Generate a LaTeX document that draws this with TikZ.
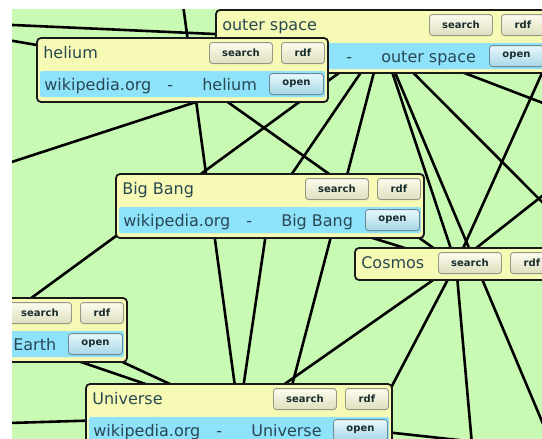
\documentclass[tikz,border=0pt]{standalone}
\usepackage{fontspec}
\setmainfont{DejaVu Sans}
\usetikzlibrary{positioning, calc}

\definecolor{meadow}{RGB}{200,250,180}
\definecolor{boxyellow}{RGB}{246,250,180}
\definecolor{rowblue}{RGB}{142,226,250}
\definecolor{titleink}{RGB}{40,72,84}
\definecolor{btnink}{RGB}{25,45,45}
\definecolor{btntop}{RGB}{252,252,238}
\definecolor{btnbot}{RGB}{222,222,190}
\definecolor{btnedge}{RGB}{150,150,135}
\definecolor{opentop}{RGB}{232,248,252}
\definecolor{openbot}{RGB}{168,214,232}
\definecolor{openedge}{RGB}{105,140,150}

\tikzset{
        relation/.style={
            draw=black, line width=2.6pt
        },
        wikibox/.style={
            rectangle, draw=black!90, line width=1.8pt, fill=boxyellow, rounded corners=4pt, inner sep=0pt
        },
        boxtitle/.style={
            anchor=base west, inner sep=0pt, text=titleink, font=\fontsize{16}{18}\selectfont
        },
        linkrow/.style={
            fill=rowblue, rounded corners=2pt
        },
        linktext/.style={
            boxtitle
        },
        btn/.style={
            rectangle, anchor=north east, draw=btnedge, line width=0.9pt, rounded corners=3pt,
            top color=btntop, bottom color=btnbot, minimum height=21pt, inner sep=0pt,
            text=btnink, font=\fontsize{10}{12}\selectfont\bfseries
        },
        openbtn/.style={
            btn, draw=openedge, top color=opentop, bottom color=openbot, minimum width=54pt
        },
}

% box with title row: name, width, height, title
\newcommand{\wikihead}[4]{%
        \node [wikibox, minimum width=#2pt, minimum height=#3pt] (#1)        at (#1-c)                          {};
        \node [boxtitle]                                      (#1-title)  at ($(#1.north west)+(7,21)$)      {#4};
        \node [btn, minimum width=43pt]                       (#1-rdf)    at ($(#1.north east)+(-4,5)$)      {rdf};
        \node [btn, minimum width=63pt]                       (#1-search) at ($(#1.north east)+(-56,5)$)     {search};
}
% blue link row: name, topic
\newcommand{\wikilink}[2]{%
        \path [linkrow] ($(#1.north west)+(4,34)$) rectangle ($(#1.north east)+(-4,60)$);
        \node [linktext]  (#1-site)  at ($(#1.north west)+(8,53)$)    {wikipedia.org};
        \node [linktext]  (#1-dash)  at ($(#1.north west)+(131,53)$)  {-};
        \node [linktext]  (#1-topic) at ($(#1.north west)+(166,53)$)  {#2};
        \node [openbtn]   (#1-open)  at ($(#1.north east)+(-5,36)$)   {open};
}

\begin{document}
\begin{tikzpicture}[x=1pt, y=-1pt]

        %FRAME (white margin top and left, the rest is the green canvas)
        \useasboundingbox (0,0) rectangle (542,439);
        \fill [white]  (0,0) rectangle (542,439);
        \clip (12,9) rectangle (542,439);
        \fill [meadow] (12,9) rectangle (542,439);

        %CENTRES OF THE BOXES
        \coordinate (outer-c)    at (382,41.5);
        \coordinate (helium-c)   at (182.5,70);
        \coordinate (bigbang-c)  at (270,206);
        \coordinate (cosmos-c)   at (456,264);
        \coordinate (earth-c)    at (-12.5,330);
        \coordinate (universe-c) at (239,416);

        %NODES OUTSIDE THE VIEW
        \coordinate (far-w1) at (-99,20);
        \coordinate (far-w2) at (-39,32);
        \coordinate (far-w3) at (-46,284);
        \coordinate (far-w4) at (-56,425);
        \coordinate (far-w5) at (-99,198);
        \coordinate (far-n)  at (178,-32);
        \coordinate (far-ne) at (556,42);
        \coordinate (far-e2) at (589,249);
        \coordinate (far-e3) at (590,121);
        \coordinate (far-e4) at (575,170);
        \coordinate (far-e1) at (641,460);
        \coordinate (far-se) at (589,533);
        \coordinate (far-s1) at (266,485);
        \coordinate (far-s2) at (331,502);
        \coordinate (far-s3) at (476,490);

        % CONNECT BOXES
        \draw [relation] (outer-c)    -- (bigbang-c);
        \draw [relation] (outer-c)    -- (cosmos-c);
        \draw [relation] (outer-c)    -- (earth-c);
        \draw [relation] (helium-c)   -- (cosmos-c);
        \draw [relation] (bigbang-c)  -- (cosmos-c);
        \draw [relation] (bigbang-c)  -- (universe-c);
        \draw [relation] (cosmos-c)   -- (universe-c);
        \draw [relation] (earth-c)    -- (universe-c);

        % CONNECT TO NODES OUTSIDE
        \draw [relation] (outer-c)    -- (far-w1);
        \draw [relation] (outer-c)    -- (far-w5);
        \draw [relation] (outer-c)    -- (far-e2);
        \draw [relation] (outer-c)    -- (far-e3);
        \draw [relation] (outer-c)    -- (far-se);
        \draw [relation] (outer-c)    -- (far-s1);
        \draw [relation] (helium-c)   -- (far-w2);
        \draw [relation] (cosmos-c)   -- (far-ne);
        \draw [relation] (cosmos-c)   -- (far-e4);
        \draw [relation] (cosmos-c)   -- (far-s2);
        \draw [relation] (cosmos-c)   -- (far-s3);
        \draw [relation] (universe-c) -- (far-n);
        \draw [relation] (universe-c) -- (far-w3);
        \draw [relation] (universe-c) -- (far-w4);
        \draw [relation] (universe-c) -- (far-e1);

        % BOXES
        \wikihead{outer}{332}{63}{outer space}
        \wikilink{outer}{outer space}
        \wikihead{helium}{291}{64}{helium}
        \wikilink{helium}{helium}
        \wikihead{bigbang}{308}{64}{Big Bang}
        \wikilink{bigbang}{Big Bang}
        \wikihead{cosmos}{202}{32}{Cosmos}
        \wikihead{earth}{279}{64}{Earth}
        \wikilink{earth}{Earth}
        \wikihead{universe}{306}{64}{Universe}
        \wikilink{universe}{Universe}

\end{tikzpicture}
\end{document}
